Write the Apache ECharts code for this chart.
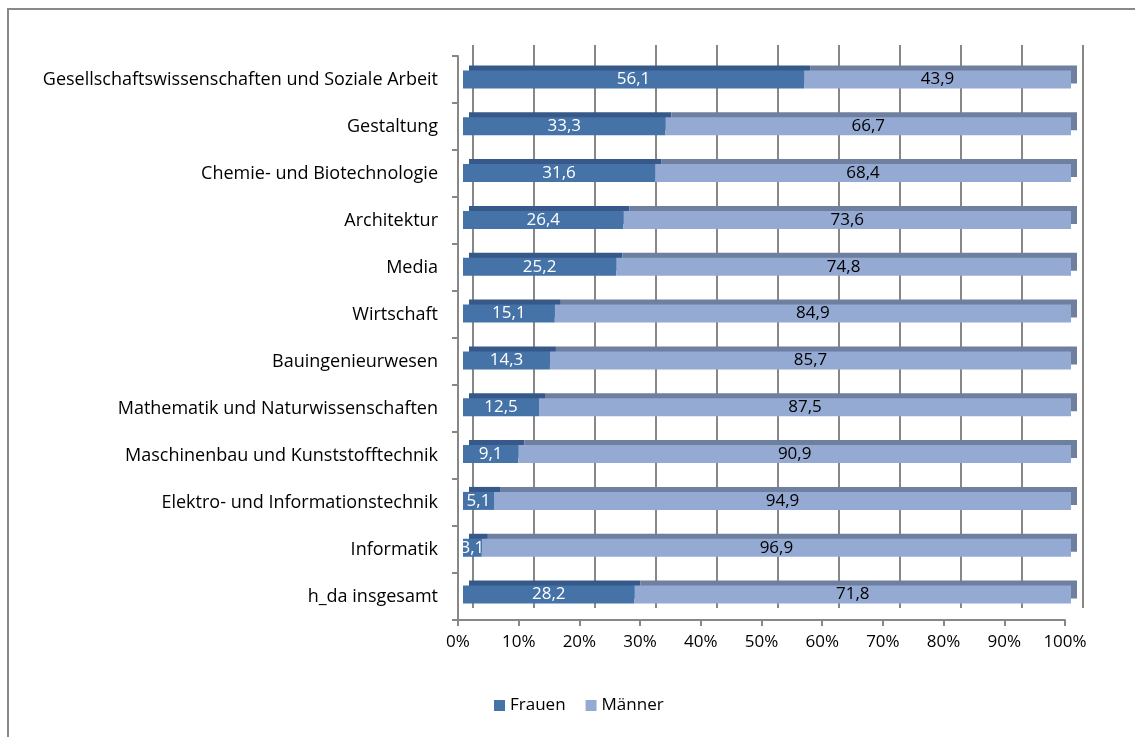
<!DOCTYPE html>
<html lang="de">
<head>
  <meta charset="UTF-8">
  <title>Frauen- und Männeranteil nach Fachbereich</title>
  <style>
    html, body { margin: 0; padding: 0; background: #fff; overflow: hidden; }
    /* Rahmen des Diagrammbereichs (rechts/unten abgeschnitten) */
    #frame {
      position: absolute; left: 7px; top: 8px;
      width: 1200px; height: 800px;
      border-left: 2px solid #898989; border-top: 2px solid #898989;
    }
    #chart { position: absolute; left: 0; top: 0; width: 1135px; height: 737px; }
  </style>
  <script src="https://cdn.jsdelivr.net/npm/echarts@6/dist/echarts.min.js"></script>
</head>
<body>
  <div id="frame"></div>
  <div id="chart"></div>

  <script>
    // Kategorien von unten nach oben (so wie die Kategorieachse sie zeichnet)
    const categories = [
      'h_da insgesamt',
      'Informatik',
      'Elektro- und Informationstechnik',
      'Maschinenbau und Kunststofftechnik',
      'Mathematik und Naturwissenschaften',
      'Bauingenieurwesen',
      'Wirtschaft',
      'Media',
      'Architektur',
      'Chemie- und Biotechnologie',
      'Gestaltung',
      'Gesellschaftswissenschaften und Soziale Arbeit'
    ];
    const frauen = [28.2, 3.1, 5.1, 9.1, 12.5, 14.3, 15.1, 25.2, 26.4, 31.6, 33.3, 56.1];
    const maenner = [71.8, 96.9, 94.9, 90.9, 87.5, 85.7, 84.9, 74.8, 73.6, 68.4, 66.7, 43.9];
    const xTicks = [0, 10, 20, 30, 40, 50, 60, 70, 80, 90, 100];

    const FONT = '"Open Sans", "Noto Sans", sans-serif';
    const GRID_COLOR = '#878787';

    const chart = echarts.init(document.getElementById('chart'));

    const fmt = v => String(v).replace('.', ',');

    const option = {
      animation: false,
      textStyle: { fontFamily: FONT },
      legend: {
        bottom: 18,
        left: 489,
        itemWidth: 11,
        itemHeight: 11,
        itemGap: 20,
        icon: 'rect',
        textStyle: { fontSize: 17, color: '#000', fontFamily: FONT },
        data: ['Frauen', 'Männer']
      },
      grid: [
        // 0: vordere Achsen
        { left: 458, right: 1135 - 1065, top: 56, bottom: 737 - 620 },
        // 1: Balken
        { left: 463, right: 1135 - 1071, top: 56, bottom: 737 - 618 },
        // 2: Rückwand mit Gitterlinien
        { left: 473, right: 1135 - 1083, top: 45, bottom: 737 - 608 }
      ],
      xAxis: [
        {
          gridIndex: 0, type: 'value', min: 0, max: 100, interval: 10,
          axisLine: { show: true, lineStyle: { color: GRID_COLOR, width: 2 } },
          axisTick: { show: true, length: 6, lineStyle: { color: GRID_COLOR, width: 2 } },
          splitLine: { show: false },
          axisLabel: {
            color: '#000', fontSize: 17, margin: 14,
            formatter: v => xTicks.includes(v) ? v + '%' : ''
          }
        },
        {
          gridIndex: 1, type: 'value', min: 0, max: 100, show: false
        },
        {
          gridIndex: 2, type: 'value', min: 0, max: 100, interval: 10,
          axisLine: { show: false }, axisTick: { show: false }, axisLabel: { show: false },
          splitLine: { show: true, lineStyle: { color: GRID_COLOR, width: 2 } }
        }
      ],
      yAxis: [
        {
          gridIndex: 0, type: 'category', data: categories,
          axisLine: { show: true, lineStyle: { color: GRID_COLOR, width: 2 } },
          axisTick: { show: true, length: 6, lineStyle: { color: GRID_COLOR, width: 2 } },
          axisLabel: { color: '#000', fontSize: 18, margin: 20 }
        },
        {
          gridIndex: 1, type: 'category', data: categories, show: false
        },
        {
          gridIndex: 2, type: 'category', data: categories, show: false,
          splitLine: { show: false }
        }
      ],
      series: [
        {
          name: 'Frauen', type: 'bar', stack: 'total',
          xAxisIndex: 1, yAxisIndex: 1,
          barWidth: 18,
          data: frauen,
          itemStyle: {
            color: '#4572a7',
            shadowColor: '#36598a', shadowBlur: 0, shadowOffsetX: 6, shadowOffsetY: -5
          },
          label: {
            show: true, position: 'inside', color: '#fff', fontSize: 17,
            formatter: p => fmt(p.value)
          }
        },
        {
          name: 'Männer', type: 'bar', stack: 'total',
          xAxisIndex: 1, yAxisIndex: 1,
          barWidth: 18,
          data: maenner,
          itemStyle: {
            color: '#94aad2',
            shadowColor: '#6e7f9f', shadowBlur: 0, shadowOffsetX: 6, shadowOffsetY: -5
          },
          label: {
            show: true, position: 'inside', color: '#000', fontSize: 17,
            formatter: p => fmt(p.value)
          }
        }
      ]
    };

    chart.setOption(option);
  </script>
</body>
</html>
